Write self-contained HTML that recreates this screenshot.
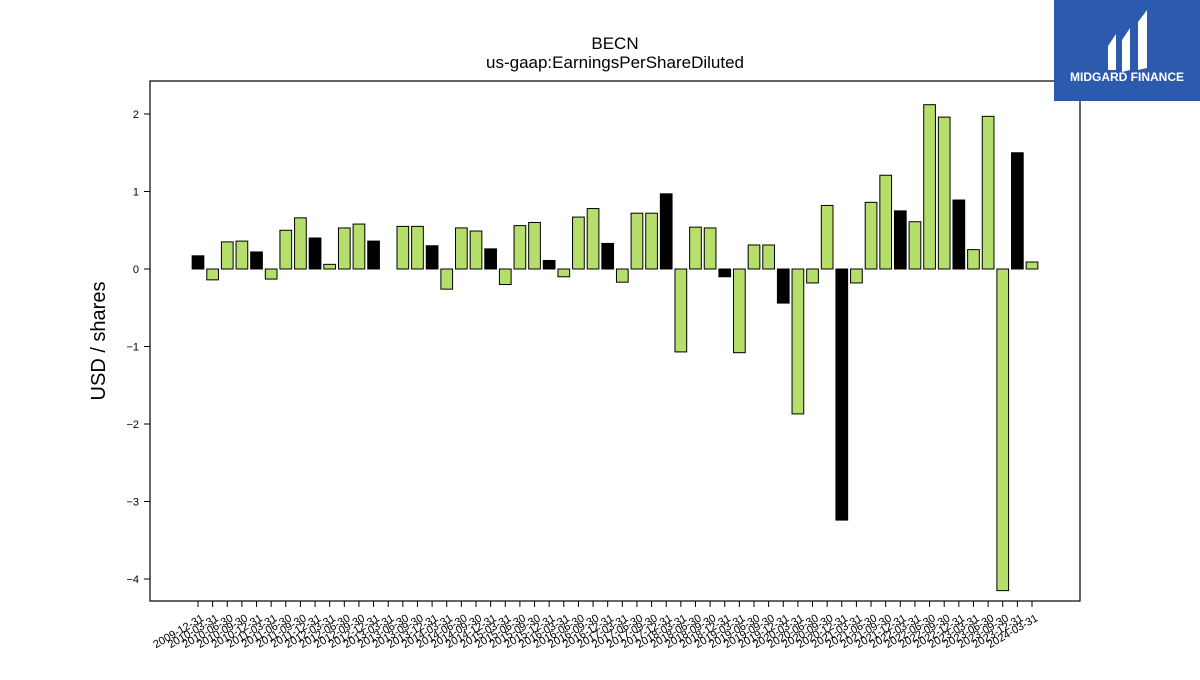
<!DOCTYPE html>
<html><head><meta charset="utf-8"><style>
body{margin:0;width:1200px;height:675px;background:#fff;overflow:hidden;font-family:"Liberation Sans","DejaVu Sans",sans-serif}
</style></head><body>
<svg id="chart" width="1200" height="675" xmlns="http://www.w3.org/2000/svg">
<text x="615" y="49" font-size="17" text-anchor="middle">BECN</text>
<text x="615" y="68" font-size="17" text-anchor="middle">us-gaap:EarningsPerShareDiluted</text>
<text transform="translate(105,341) rotate(-90)" font-size="20" text-anchor="middle">USD / shares</text>
<g id="bars"></g><g id="yaxis"></g><g id="xaxis"></g>
<rect x="150" y="81" width="930" height="520" fill="none" stroke="#000" stroke-width="1.2"/>
<g>
<rect x="1054" y="0" width="146" height="101" fill="#2c5aad"/>
<path d="M1108 46 L1116 34 L1116 70 L1108 70 Z" fill="#fff"/>
<path d="M1122 40 L1130 28 L1130 70 L1122 72 Z" fill="#fff"/>
<path d="M1138 22 L1147 10 L1147 68 L1138 70 Z" fill="#fff"/>
<text x="1127" y="81" font-size="12" font-weight="bold" fill="#fff" text-anchor="middle">MIDGARD FINANCE</text>
</g>
</svg>
<script>
const categories=["2009-12-31","2010-03-31","2010-06-30","2010-09-30","2010-12-31","2011-03-31","2011-06-30","2011-09-30","2011-12-31","2012-03-31","2012-06-30","2012-09-30","2012-12-31","2013-03-31","2013-06-30","2013-09-30","2013-12-31","2014-03-31","2014-06-30","2014-09-30","2014-12-31","2015-03-31","2015-06-30","2015-09-30","2015-12-31","2016-03-31","2016-06-30","2016-09-30","2016-12-31","2017-03-31","2017-06-30","2017-09-30","2017-12-31","2018-03-31","2018-06-30","2018-09-30","2018-12-31","2019-03-31","2019-06-30","2019-09-30","2019-12-31","2020-03-31","2020-06-30","2020-09-30","2020-12-31","2021-03-31","2021-06-30","2021-09-30","2021-12-31","2022-03-31","2022-06-30","2022-09-30","2022-12-31","2023-03-31","2023-06-30","2023-09-30","2023-12-31","2024-03-31"];
const values=[0.17,-0.14,0.35,0.36,0.22,-0.13,0.5,0.66,0.4,0.06,0.53,0.58,0.36,0.0,0.55,0.55,0.3,-0.26,0.53,0.49,0.26,-0.2,0.56,0.6,0.11,-0.1,0.67,0.78,0.33,-0.17,0.72,0.72,0.97,-1.07,0.54,0.53,-0.1,-1.08,0.31,0.31,-0.44,-1.87,-0.18,0.82,-3.24,-0.18,0.86,1.21,0.75,0.61,2.12,1.96,0.89,0.25,1.97,-4.15,1.5,0.09];
const yTicks=[2,1,0,-1,-2,-3,-4];
const yTickLabels=["2","1","0","\u22121","\u22122","\u22123","\u22124"];
const NS="http://www.w3.org/2000/svg";
const y0px=269, unit=77.5;
function yScale(v){return y0px-v*unit;}
const x0=198, step=(1032-198)/57;
function xScale(i){return x0+i*step;}
const bw=step*0.8;
const bars=document.getElementById('bars');
values.forEach((v,i)=>{
  const r=document.createElementNS(NS,'rect');
  
  
  const top=Math.min(yScale(v),yScale(0));
  r.setAttribute('x',xScale(i)-bw/2);r.setAttribute('y',top);
  r.setAttribute('width',bw);r.setAttribute('height',Math.abs(yScale(v)-yScale(0)));
  r.setAttribute('fill',i%4===0?'#000':'#b5de6a');r.setAttribute('stroke','#000');r.setAttribute('stroke-width','1');
  bars.appendChild(r);
});
const ya=document.getElementById('yaxis');
yTicks.forEach((t,i)=>{
  const l=document.createElementNS(NS,'line');
  
  
  l.setAttribute('x1',144);l.setAttribute('x2',150);l.setAttribute('y1',yScale(t));l.setAttribute('y2',yScale(t));l.setAttribute('stroke','#000');
  ya.appendChild(l);
  const tx=document.createElementNS(NS,'text');
  
  
  tx.setAttribute('x',139);tx.setAttribute('y',yScale(t)+4);tx.setAttribute('font-size','11');tx.setAttribute('text-anchor','end');
  tx.textContent=yTickLabels[i];ya.appendChild(tx);
});
const xa=document.getElementById('xaxis');
categories.forEach((c,i)=>{
  const x=xScale(i);
  const l=document.createElementNS(NS,'line');
  
  
  l.setAttribute('x1',x);l.setAttribute('x2',x);l.setAttribute('y1',601);l.setAttribute('y2',607);l.setAttribute('stroke','#000');
  xa.appendChild(l);
  const tx=document.createElementNS(NS,'text');
  
  
  tx.setAttribute('transform','translate('+(x+3)+',614) rotate(-30)');
  tx.setAttribute('font-size','11');tx.setAttribute('text-anchor','end');tx.setAttribute('dominant-baseline','hanging');
  tx.textContent=c;xa.appendChild(tx);
});
</script>
</body></html>
